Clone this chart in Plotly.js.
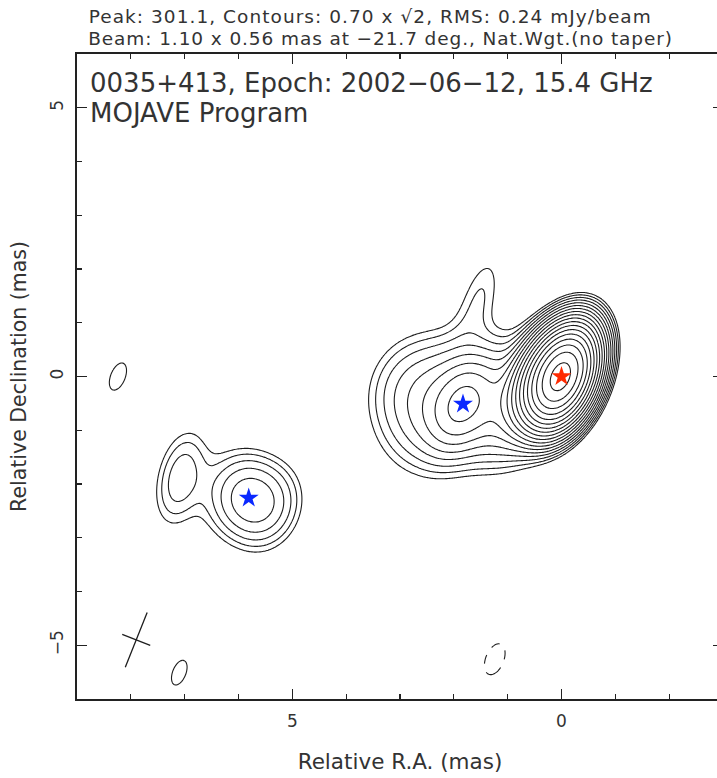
<!DOCTYPE html>
<html>
<head>
<meta charset="utf-8">
<script src="https://cdn.plot.ly/plotly-3.0.1.min.js"></script>
<style>
html,body{margin:0;padding:0;overflow:hidden;background:#fff;}
#chart{width:730px;height:778px;}
g.annotation[data-index="0"] text{letter-spacing:1.05px;}
g.annotation[data-index="1"] text{letter-spacing:0.9px;}
</style>
</head>
<body>
<div id="chart"></div>
<script>
// Model components: relative RA / Dec (mas), peak brightness after restoring (mJy/beam),
// intrinsic FWHM major axis (mas), axial ratio, position angle (deg)
var compNames = ["core", "innerJet", "J0", "J1", "J2", "J3", "bridge", "finger", "K1", "K2", "K3", "K4", "noise1", "noise2", "noiseNeg"];
var compX     = [0.00, 0.40, 1.00, 1.83, 2.30, 3.10, 1.05, 1.52, 5.81, 7.08, 6.90, 5.35, 8.24, 7.10, 1.24];
var compY     = [0.00, -0.08, -0.60, -0.51, -0.50, 0.00, 0.20, 1.50, -2.26, -1.88, -2.00, -2.45, 0.00, -5.51, -5.26];
var compPeak  = [285.0, 30.0, 4.0, 5.5, 3.7, 0.45, 0.4, 0.95, 3.3, 1.5, 0.30, 0.9, 0.82, 0.80, -0.85];
var compMaj   = [0.35, 0.35, 1.00, 0.50, 1.37, 0.80, 1.20, 1.10, 0.95, 0.80, 2.00, 0.70, 0.00, 0.00, 0.30];
var compRatio = [0.40, 1.00, 1.00, 1.00, 1.00, 1.00, 1.00, 0.20, 0.35, 0.30, 0.70, 1.00, 1.00, 1.00, 1.00];
var compPA    = [70, 0, 0, 0, 0, 0, 0, -15, 60, 0, 0, 0, 0, 0, 0];

// Restoring beam
var beamMaj = 1.10, beamMin = 0.56, beamPA = -21.7;   // mas, mas, deg
var beamCenter = [7.9, -4.9];

// Contours: lowest level and step factor
var contourBase = 0.70, contourFactor = Math.SQRT2, nLevels = 18;

// Star markers (component positions)
var starX = [0.00, 1.83, 5.81];
var starY = [0.00, -0.51, -2.26];
var starColor = ["#ff2a00", "#0a28ff", "#0a28ff"];

// Text
var headLine1 = "Peak: 301.1, Contours: 0.70 x \u221A2, RMS: 0.24 mJy/beam";
var headLine2 = "Beam: 1.10 x 0.56 mas at \u221221.7 deg., Nat.Wgt.(no taper)";
var innerLine1 = "0035+413, Epoch: 2002\u221206\u221212, 15.4 GHz";
var innerLine2 = "MOJAVE Program";
var xTitle = "Relative R.A. (mas)";
var yTitle = "Relative Declination (mas)";

// ---- Build the image: components convolved with the restoring beam ----
var s2f = 1 / (2 * Math.sqrt(2 * Math.LN2));
function covariance(maj, mn, paDeg) {
  var p = paDeg * Math.PI / 180;
  var ux = Math.sin(p), uy = Math.cos(p), vx = Math.cos(p), vy = -Math.sin(p);
  var a2 = Math.pow(maj * s2f, 2), b2 = Math.pow(mn * s2f, 2);
  return [a2 * ux * ux + b2 * vx * vx, a2 * ux * uy + b2 * vx * vy, a2 * uy * uy + b2 * vy * vy];
}
var beamCov = covariance(beamMaj, beamMin, beamPA);

var comps = compX.map(function (cx, i) {
  var ic = covariance(compMaj[i], compMaj[i] * compRatio[i], compPA[i]);
  var a = beamCov[0] + ic[0], b = beamCov[1] + ic[1], c = beamCov[2] + ic[2];
  var det = a * c - b * b;
  return {x: cx, y: compY[i], p: compPeak[i], ia: c / det, ib: -b / det, ic: a / det};
});

var step = 0.025;
var gx = [], gy = [];
for (var xv = -3.2; xv <= 9.2 + 1e-9; xv += step) gx.push(+xv.toFixed(4));
for (var yv = -6.2; yv <= 6.2 + 1e-9; yv += step) gy.push(+yv.toFixed(4));

var zPos = [], zNeg = [];
for (var j = 0; j < gy.length; j++) {
  var rowP = [], rowN = [];
  for (var i = 0; i < gx.length; i++) {
    var v = 0;
    for (var k = 0; k < comps.length; k++) {
      var C = comps[k];
      var dx = gx[i] - C.x, dy = gy[j] - C.y;
      var q = C.ia * dx * dx + 2 * C.ib * dx * dy + C.ic * dy * dy;
      if (q < 60) v += C.p * Math.exp(-0.5 * q);
    }
    // contour index n <-> contourBase * contourFactor^n
    rowP.push(v > contourBase * 0.05 ? Math.log(v / contourBase) / Math.log(contourFactor) : -20);
    rowN.push(-v);
  }
  zPos.push(rowP); zNeg.push(rowN);
}

// beam cross
var bp = beamPA * Math.PI / 180;
var bux = Math.sin(bp), buy = Math.cos(bp), bvx = Math.cos(bp), bvy = -Math.sin(bp);
var hM = beamMaj / 2, hm = beamMin / 2;
var beamX = [beamCenter[0] - hM * bux, beamCenter[0] + hM * bux, null, beamCenter[0] - hm * bvx, beamCenter[0] + hm * bvx];
var beamY = [beamCenter[1] - hM * buy, beamCenter[1] + hM * buy, null, beamCenter[1] - hm * bvy, beamCenter[1] + hm * bvy];

var lineCol = "#1e1e1e";
var traces = [
  {
    type: "contour", x: gx, y: gy, z: zPos, showscale: false, hoverinfo: "skip",
    autocontour: false,
    contours: {start: 0, end: nLevels - 1, size: 1, coloring: "none"},
    line: {color: lineCol, width: 1.1, smoothing: 1}
  },
  {
    type: "contour", x: gx, y: gy, z: zNeg, showscale: false, hoverinfo: "skip",
    autocontour: false,
    contours: {start: contourBase, end: contourBase, size: 1, coloring: "none"},
    line: {color: lineCol, width: 1.1, dash: "dash", smoothing: 1}
  },
  {
    type: "scatter", mode: "lines", x: beamX, y: beamY, hoverinfo: "skip",
    line: {color: lineCol, width: 1.3}
  },
  {
    type: "scatter", mode: "markers", x: starX, y: starY, hoverinfo: "skip",
    marker: {symbol: "star", size: 15, color: starColor, line: {width: 0}}
  }
];

var fontFam = "DejaVu Sans, sans-serif";
var txtCol = "#333";
var layout = {
  width: 730, height: 778,
  margin: {l: 77, r: 7, t: 54, b: 79},
  paper_bgcolor: "#fff", plot_bgcolor: "#fff",
  showlegend: false,
  font: {family: fontFam, color: txtCol, size: 18},
  xaxis: {
    range: [9, -3], autorange: false,
    showgrid: false, zeroline: false,
    showline: true, linecolor: "#222", linewidth: 1.6, mirror: "allticks",
    ticks: "inside", ticklen: 10, tickwidth: 1.3, tickcolor: "#222",
    tick0: 0, dtick: 5, ticklabelstandoff: 6,
    minor: {ticks: "inside", ticklen: 5, tickwidth: 1.2, tickcolor: "#222", dtick: 1, tick0: 0},
    tickfont: {family: fontFam, size: 17, color: txtCol},
    title: {text: xTitle, font: {family: fontFam, size: 21.5, color: txtCol}, standoff: 24}
  },
  yaxis: {
    range: [-6, 6], autorange: false,
    showgrid: false, zeroline: false,
    showline: true, linecolor: "#222", linewidth: 1.6, mirror: "allticks",
    ticks: "inside", ticklen: 10, tickwidth: 1.3, tickcolor: "#222",
    tick0: 0, dtick: 5, tickangle: -90, ticklabelstandoff: 6,
    minor: {ticks: "inside", ticklen: 5, tickwidth: 1.2, tickcolor: "#222", dtick: 1, tick0: 0},
    tickfont: {family: fontFam, size: 17, color: txtCol},
    title: {text: yTitle, font: {family: fontFam, size: 20.5, color: txtCol}, standoff: 14}
  },
  annotations: [
    {xref: "paper", yref: "paper", x: (370 - 77) / 646, y: 1 + (54 - 17) / 645, xanchor: "center", yanchor: "middle",
     text: headLine1, showarrow: false, font: {family: fontFam, size: 18.5, color: txtCol}},
    {xref: "paper", yref: "paper", x: (380 - 77) / 646, y: 1 + (54 - 38) / 645, xanchor: "center", yanchor: "middle",
     text: headLine2, showarrow: false, font: {family: fontFam, size: 18.5, color: txtCol}},
    {xref: "paper", yref: "paper", x: (88 - 77) / 646, y: 1 - (83 - 54) / 645, xanchor: "left", yanchor: "middle",
     text: innerLine1, showarrow: false, font: {family: fontFam, size: 26, color: txtCol}},
    {xref: "paper", yref: "paper", x: (88 - 77) / 646, y: 1 - (113 - 54) / 645, xanchor: "left", yanchor: "middle",
     text: innerLine2, showarrow: false, font: {family: fontFam, size: 26, color: txtCol}}
  ]
};

Plotly.newPlot("chart", traces, layout, {staticPlot: true, displayModeBar: false});
</script>
</body>
</html>
